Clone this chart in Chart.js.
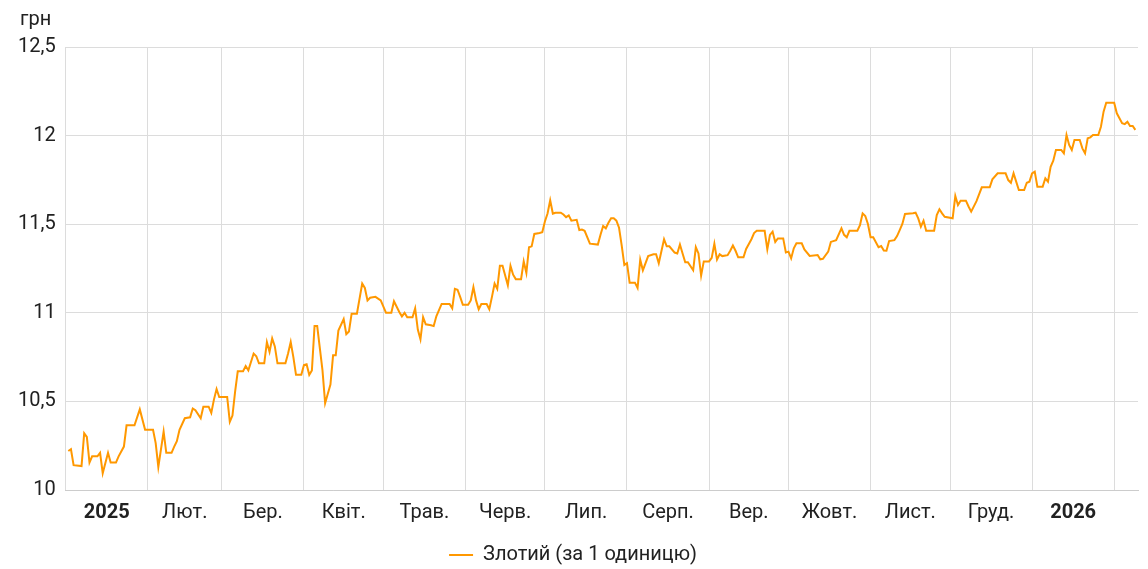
<!DOCTYPE html>
<html>
<head>
<meta charset="utf-8">
<title>Злотий</title>
<script src="https://cdn.jsdelivr.net/npm/chart.js@4.4.1/dist/chart.umd.min.js"></script>
<style>
  html, body { margin: 0; padding: 0; background: #fff; }
  #wrap { width: 1148px; height: 569px; }
</style>
</head>
<body>
<div id="wrap"><canvas id="rateChart"></canvas></div>
<script>
// day offset from 1 Jan 2025
const days = [
  1, 2, 3, 6, 7, 8, 9, 10, 12, 13, 14, 16, 17, 19, 20, 22, 23, 26, 28, 30,
  33, 34, 35, 37, 38, 40, 41, 42, 43, 45, 47, 48, 49, 51, 52, 54, 55, 56, 57, 58,
  61, 62, 63, 64, 65, 67, 68, 69, 71, 72, 73, 75, 76, 77, 78, 79, 80, 83, 84, 85,
  86, 87, 89, 90, 91, 92, 93, 94, 95, 97, 98, 100, 101, 102, 103, 105, 106, 107, 108, 110,
  112, 113, 114, 115, 117, 119, 121, 123, 124, 126, 127, 128, 129, 131, 132, 133, 134, 135, 136, 138,
  139, 140, 142, 145, 146, 147, 148, 149, 150, 152, 153, 154, 155, 156, 157, 159, 160, 161, 162, 163,
  164, 165, 167, 168, 169, 170, 172, 173, 174, 175, 176, 177, 179, 180, 181, 182, 183, 184, 185, 187,
  188, 189, 190, 191, 193, 194, 195, 196, 198, 201, 202, 203, 204, 205, 206, 207, 208, 209, 210, 211,
  212, 213, 215, 216, 217, 218, 220, 222, 223, 224, 226, 227, 228, 230, 231, 232, 233, 234, 235, 237,
  238, 239, 240, 241, 243, 244, 245, 246, 247, 248, 250, 251, 252, 253, 254, 256, 257, 259, 260, 261,
  264, 265, 266, 267, 268, 269, 271, 272, 273, 274, 275, 276, 278, 279, 281, 284, 285, 286, 288, 289,
  291, 293, 294, 295, 296, 299, 300, 301, 302, 303, 304, 305, 307, 308, 309, 310, 311, 313, 314, 315,
  316, 317, 320, 321, 322, 323, 324, 325, 328, 329, 330, 331, 332, 335, 336, 337, 338, 340, 341, 342,
  344, 346, 349, 350, 352, 355, 356, 357, 358, 360, 362, 363, 364, 365, 366, 367, 369, 370, 371, 372,
  373, 374, 376, 377, 378, 379, 380, 381, 383, 384, 385, 386, 387, 388, 390, 391, 392, 393, 396, 397,
  399, 400, 401, 402, 403, 404
];
const rates = [
  10.22, 10.23, 10.14, 10.135, 10.32, 10.30, 10.155, 10.19, 10.19, 10.21, 10.095, 10.21, 10.155, 10.155, 10.19, 10.245, 10.365, 10.365, 10.455, 10.34,
  10.34, 10.265, 10.13, 10.33, 10.21, 10.21, 10.245, 10.275, 10.34, 10.405, 10.41, 10.46, 10.45, 10.405, 10.47, 10.47, 10.435, 10.51, 10.57, 10.525,
  10.525, 10.385, 10.42, 10.555, 10.67, 10.67, 10.70, 10.675, 10.77, 10.755, 10.715, 10.715, 10.835, 10.78, 10.855, 10.81, 10.715, 10.715, 10.77, 10.835,
  10.75, 10.65, 10.65, 10.705, 10.71, 10.65, 10.675, 10.925, 10.925, 10.675, 10.49, 10.595, 10.76, 10.76, 10.90, 10.965, 10.88, 10.895, 10.995, 10.995,
  11.165, 11.14, 11.07, 11.085, 11.09, 11.07, 11.0, 11.0, 11.065, 11.005, 10.98, 11.0, 10.975, 10.975, 11.025, 10.905, 10.85, 10.975, 10.935, 10.93,
  10.925, 10.98, 11.05, 11.05, 11.025, 11.135, 11.13, 11.09, 11.045, 11.045, 11.07, 11.145, 11.07, 11.02, 11.05, 11.05, 11.02, 11.09, 11.165, 11.135,
  11.265, 11.265, 11.155, 11.265, 11.215, 11.19, 11.19, 11.29, 11.225, 11.37, 11.375, 11.445, 11.45, 11.455, 11.515, 11.56, 11.635, 11.56, 11.565, 11.565,
  11.555, 11.54, 11.55, 11.52, 11.525, 11.467, 11.47, 11.463, 11.39, 11.385, 11.44, 11.49, 11.477, 11.508, 11.533, 11.533, 11.52, 11.48, 11.38, 11.27,
  11.28, 11.17, 11.17, 11.14, 11.30, 11.24, 11.32, 11.33, 11.33, 11.28, 11.415, 11.375, 11.375, 11.34, 11.335, 11.385, 11.335, 11.285, 11.285, 11.24,
  11.37, 11.335, 11.21, 11.29, 11.29, 11.31, 11.39, 11.30, 11.33, 11.32, 11.325, 11.35, 11.38, 11.35, 11.313, 11.313, 11.36, 11.415, 11.45, 11.463,
  11.463, 11.358, 11.44, 11.458, 11.40, 11.42, 11.42, 11.34, 11.345, 11.307, 11.364, 11.392, 11.392, 11.358, 11.321, 11.326, 11.302, 11.305, 11.345, 11.40,
  11.41, 11.477, 11.44, 11.426, 11.463, 11.463, 11.495, 11.561, 11.546, 11.501, 11.426, 11.426, 11.37, 11.377, 11.351, 11.35, 11.405, 11.41, 11.433, 11.467,
  11.501, 11.558, 11.562, 11.565, 11.533, 11.486, 11.52, 11.463, 11.463, 11.552, 11.584, 11.561, 11.542, 11.533, 11.659, 11.608, 11.633, 11.633, 11.60, 11.571,
  11.63, 11.708, 11.708, 11.753, 11.787, 11.787, 11.749, 11.734, 11.787, 11.693, 11.693, 11.734, 11.74, 11.787, 11.797, 11.712, 11.712, 11.759, 11.74, 11.824,
  11.858, 11.919, 11.919, 11.90, 12.003, 11.947, 11.919, 11.975, 11.975, 11.928, 11.90, 11.985, 11.99, 12.003, 12.003, 12.05, 12.135, 12.186, 12.186, 12.126,
  12.07, 12.065, 12.078, 12.054, 12.054, 12.032
];

const monthStarts = [0, 31, 59, 90, 120, 151, 181, 212, 243, 273, 304, 334, 365, 396];
const monthLabels = ['2025', 'Лют.', 'Бер.', 'Квіт.', 'Трав.', 'Черв.', 'Лип.', 'Серп.', 'Вер.', 'Жовт.', 'Лист.', 'Груд.', '2026'];
const yTicks = [10, 10.5, 11, 11.5, 12, 12.5];
const unitLabel = 'грн';

const midMonths = monthLabels.map((_, i) => (monthStarts[i] + monthStarts[i + 1]) / 2);
const points = days.map((d, i) => ({ x: d, y: rates[i] }));

const gridColor = '#dcdcdc';
const textColor = '#212121';
const fontFamily = 'Roboto';

// draws the unit caption above the y axis
const unitPlugin = {
  id: 'unitCaption',
  afterDraw(chart) {
    const ctx = chart.ctx;
    ctx.save();
    ctx.font = '20px ' + fontFamily;
    ctx.fillStyle = textColor;
    ctx.textBaseline = 'middle';
    ctx.textAlign = 'left';
    ctx.fillText(unitLabel, 20, 20);
    ctx.restore();
  }
};

new Chart(document.getElementById('rateChart'), {
  type: 'line',
  data: {
    datasets: [{
      label: 'Злотий (за 1 одиницю)',
      data: points,
      borderColor: '#ff9800',
      backgroundColor: '#ff9800',
      borderWidth: 2,
      pointRadius: 0,
      tension: 0,
      fill: false
    }]
  },
  plugins: [unitPlugin],
  options: {
    responsive: true,
    maintainAspectRatio: false,
    animation: false,
    layout: { padding: { left: 8, right: 10, top: 47, bottom: -6 } },
    scales: {
      x: {
        type: 'linear',
        min: 0,
        max: 405,
        afterBuildTicks: (axis) => {
          axis.ticks = monthStarts.concat(midMonths).sort((a, b) => a - b).map(v => ({ value: v }));
        },
        grid: {
          drawTicks: false,
          color: (ctx) => (ctx.tick && monthStarts.includes(ctx.tick.value)) ? gridColor : 'rgba(0,0,0,0)'
        },
        border: { display: true, color: '#cccccc' },
        ticks: {
          autoSkip: false,
          maxRotation: 0,
          padding: 11,
          color: textColor,
          callback: (v) => {
            const i = midMonths.indexOf(v);
            return i >= 0 ? monthLabels[i] : '';
          },
          font: (ctx) => ({
            family: fontFamily,
            size: 20,
            weight: (ctx.tick && (ctx.tick.label === '2025' || ctx.tick.label === '2026')) ? 'bold' : 'normal'
          })
        }
      },
      y: {
        min: 10,
        max: 12.5,
        afterBuildTicks: (axis) => {
          axis.ticks = yTicks.map(v => ({ value: v }));
        },
        grid: { drawTicks: false, color: gridColor },
        border: { display: false },
        ticks: {
          padding: 10,
          color: textColor,
          font: { family: fontFamily, size: 20 },
          callback: (v) => String(v).replace('.', ',')
        }
      }
    },
    plugins: {
      legend: {
        position: 'bottom',
        labels: {
          usePointStyle: true,
          pointStyle: 'line',
          pointStyleWidth: 24,
          color: textColor,
          font: { family: fontFamily, size: 20 },
          padding: 9
        }
      },
      tooltip: { enabled: false }
    }
  }
});
</script>
</body>
</html>
